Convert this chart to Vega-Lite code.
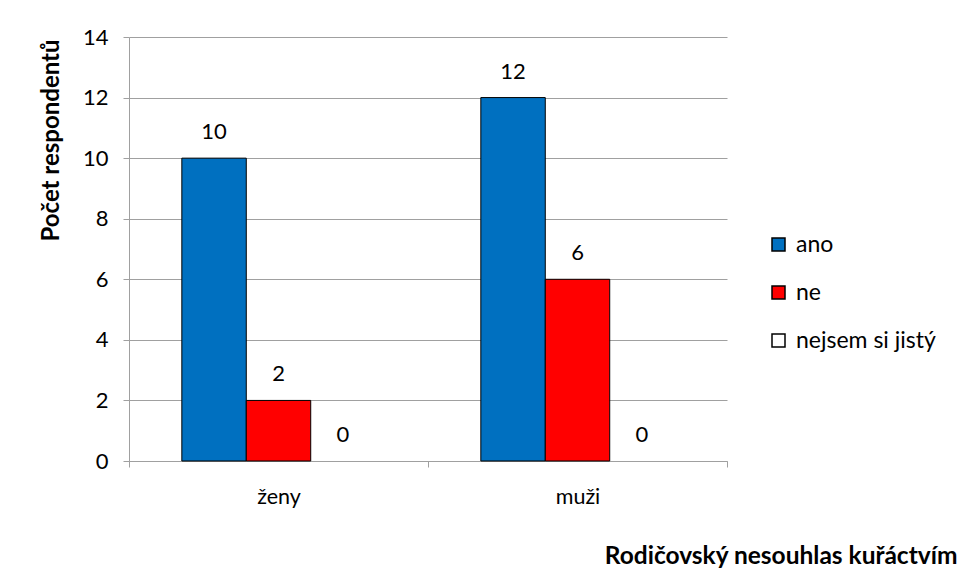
{
  "$schema": "https://vega.github.io/schema/vega-lite/v6.json",
  "autosize": "none",
  "width": 598,
  "height": 424,
  "padding": {"left": 129, "top": 37, "right": 233, "bottom": 117},
  "background": "white",
  "config": {
    "font": "Lato",
    "view": {"stroke": null},
    "axis": {"labelFont": "Lato", "titleFont": "Lato", "labelColor": "black", "titleColor": "black"}
  },
  "data": {
    "values": [
      {"skupina": "ženy", "odpoved": "ano", "pocet": 10},
      {"skupina": "ženy", "odpoved": "ne", "pocet": 2},
      {"skupina": "ženy", "odpoved": "nejsem si jistý", "pocet": 0},
      {"skupina": "muži", "odpoved": "ano", "pocet": 12},
      {"skupina": "muži", "odpoved": "ne", "pocet": 6},
      {"skupina": "muži", "odpoved": "nejsem si jistý", "pocet": 0}
    ]
  },
  "encoding": {
    "x": {
      "field": "skupina",
      "type": "nominal",
      "sort": ["ženy", "muži"],
      "scale": {"paddingInner": 0, "paddingOuter": 0},
      "axis": {
        "title": "Rodičovský nesouhlas kuřáctvím",
        "titleFontWeight": "bold",
        "titleFontSize": 24.5,
        "titleAnchor": "end",
        "titleAlign": "right",
        "titleBaseline": "alphabetic",
        "titleX": 828,
        "titleY": 102,
        "labelAngle": 0,
        "labelFontSize": 21.5,
        "labelPadding": 19,
        "domainColor": "#a0a0a0",
        "tickColor": "#a0a0a0",
        "tickBand": "extent",
        "tickSize": 6,
        "grid": false
      }
    },
    "xOffset": {
      "field": "odpoved",
      "type": "nominal",
      "sort": ["ano", "ne", "nejsem si jistý"],
      "scale": {"paddingInner": 0, "paddingOuter": 0.82}
    },
    "y": {
      "field": "pocet",
      "type": "quantitative",
      "scale": {"domain": [0, 14]},
      "axis": {
        "title": "Počet respondentů",
        "titleFontWeight": "bold",
        "titleFontSize": 24,
        "titleAngle": -90,
        "titleAlign": "center",
        "titleBaseline": "middle",
        "titleX": -78,
        "titleY": 103,
        "values": [0, 2, 4, 6, 8, 10, 12, 14],
        "labelFontSize": 22,
        "labelPadding": 15,
        "domainColor": "#a0a0a0",
        "tickColor": "#a0a0a0",
        "tickSize": 6,
        "gridColor": "#a0a0a0",
        "gridWidth": 1
      }
    }
  },
  "layer": [
    {
      "mark": {"type": "bar", "stroke": "black", "strokeWidth": 1},
      "encoding": {
        "strokeOpacity": {"condition": {"test": "datum.pocet == 0", "value": 0}, "value": 1},
        "color": {
          "field": "odpoved",
          "type": "nominal",
          "sort": ["ano", "ne", "nejsem si jistý"],
          "scale": {"domain": ["ano", "ne", "nejsem si jistý"], "range": ["#0070c0", "#ff0000", "#ffffff"]},
          "legend": {
            "title": null,
            "orient": "none",
            "legendX": 638,
            "legendY": 196,
            "symbolType": "square",
            "symbolSize": 169,
            "symbolStrokeColor": "black",
            "symbolStrokeWidth": 1.5,
            "symbolOpacity": 1,
            "labelFontSize": 23,
            "labelFont": "Lato",
            "labelColor": "black",
            "labelOffset": 6,
            "rowPadding": 24
          }
        }
      }
    },
    {
      "mark": {"type": "text", "fontSize": 22, "baseline": "alphabetic", "dy": -19, "color": "black"},
      "encoding": {"text": {"field": "pocet", "type": "quantitative"}}
    }
  ]
}
